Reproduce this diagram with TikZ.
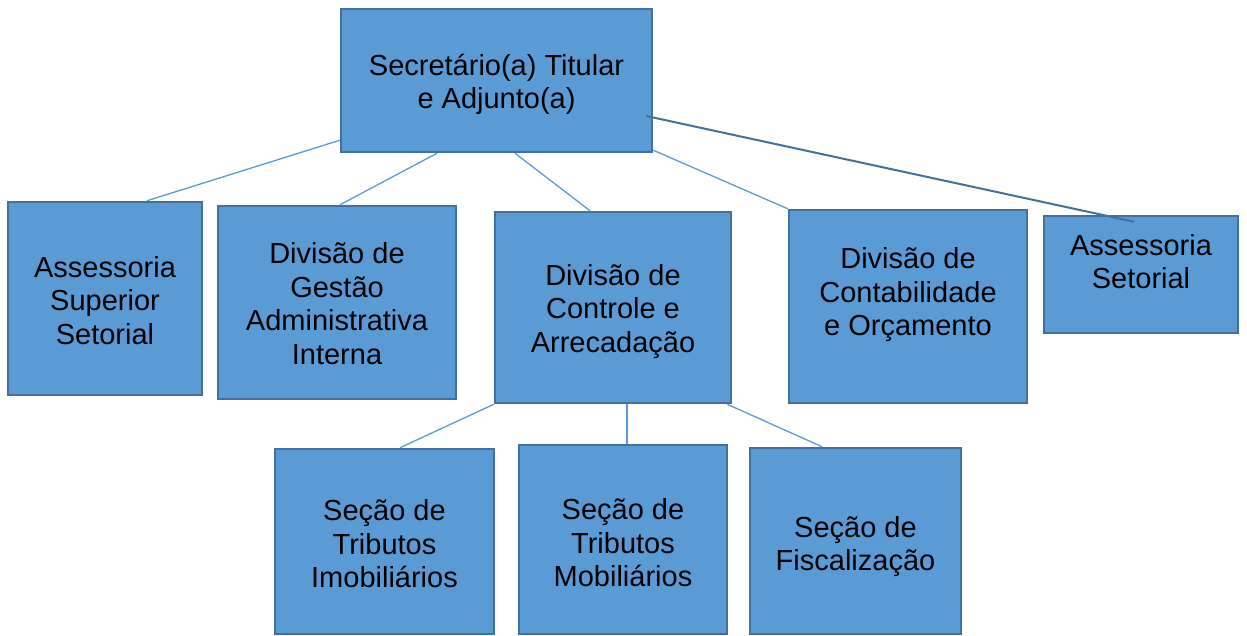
\documentclass[tikz,border=0pt]{standalone}
\usepackage{fontspec}
\setmainfont{Liberation Sans}
\usepackage{tikz}
\usetikzlibrary{positioning}
\definecolor{boxfill}{HTML}{5B9BD5}
\definecolor{boxline}{HTML}{41719C}
\tikzset{every picture/.append style={x=1pt,y=-1pt}}

\begin{document}
\begin{tikzpicture}
      \tikzstyle{box}=[rectangle,draw=boxline,fill=boxfill,line width=2.5pt,inner sep=0pt]
      \tikzstyle{txt}=[inner sep=0pt,align=center,font=\fontsize{29}{33.5}\selectfont]
      \tikzstyle{link}=[draw=boxfill,line width=1.3pt]
      \useasboundingbox (0,0) rectangle (1247,635);
      % first level
      \node[box,minimum width=311pt,minimum height=143pt] at (496.5,80.5) (top) {};
      \node[txt] at ([yshift=-4pt]top.center) (topT) {Secretário(a) Titular\\e Adjunto(a)};
      % second level
      \node[box,minimum width=194pt,minimum height=193pt] at (105,298.5) (ass1) {};
      \node[txt] at ([yshift=-2pt]ass1.center) (ass1T) {Assessoria\\Superior\\Setorial};
      \node[box,minimum width=238pt,minimum height=193pt] at (337,302.5) (gest) {};
      \node[txt] at ([yshift=-1pt]gest.center) (gestT) {Divisão de\\Gestão\\Administrativa\\Interna};
      \node[box,minimum width=236pt,minimum height=191pt] at (613,307.5) (ctrl) {};
      \node[txt] at ([yshift=-4pt]ctrl.center) (ctrlT) {Divisão de\\Controle e\\Arrecadação};
      \node[box,minimum width=238pt,minimum height=193pt] at (908,306.5) (cont) {};
      \node[txt] at ([yshift=11.5pt]cont.center) (contT) {Divisão de\\Contabilidade\\e Orçamento};
      \node[box,minimum width=194pt,minimum height=117pt] at (1141,274.5) (ass2) {};
      \node[txt] at ([yshift=13pt]ass2.center) (ass2T) {Assessoria\\Setorial};
      % third level
      \node[box,minimum width=219pt,minimum height=185pt] at (384.5,541.5) (imob) {};
      \node[txt] at ([yshift=-2.5pt]imob.center) (imobT) {Seção de\\Tributos\\Imobiliários};
      \node[box,minimum width=208pt,minimum height=189pt] at (623,539.5) (mob) {};
      \node[txt] at ([yshift=-3.5pt]mob.center) (mobT) {Seção de\\Tributos\\Mobiliários};
      \node[box,minimum width=211pt,minimum height=186pt] at (855.5,541) (fisc) {};
      \node[txt] at ([yshift=-5.5pt]fisc.center) (fiscT) {Seção de\\Fiscalização};
      % connectors
      \draw[link] ([yshift=13pt]top.south west) -- ([xshift=42pt]ass1.north);
      \draw[link] ([xshift=-59.5pt]top.south) -- ([xshift=3pt]gest.north);
      \draw[link] ([xshift=18.5pt]top.south) -- ([xshift=-23pt]ctrl.north);
      \draw[link] ([yshift=3pt]top.south east) -- (cont.north west);
      \draw[draw=boxline,line width=2pt] ([xshift=-7pt,yshift=-35.5pt]top.east) -- ([xshift=-7pt,yshift=-7pt]ass2.north);
      \draw[link] (ctrl.south west) -- ([xshift=15.5pt]imob.north);
      \draw[link] ([xshift=14pt]ctrl.south) -- ([xshift=4pt]mob.north);
      \draw[link] ([xshift=-5pt]ctrl.south east) -- ([xshift=-33.5pt]fisc.north);
    \end{tikzpicture}
\end{document}
